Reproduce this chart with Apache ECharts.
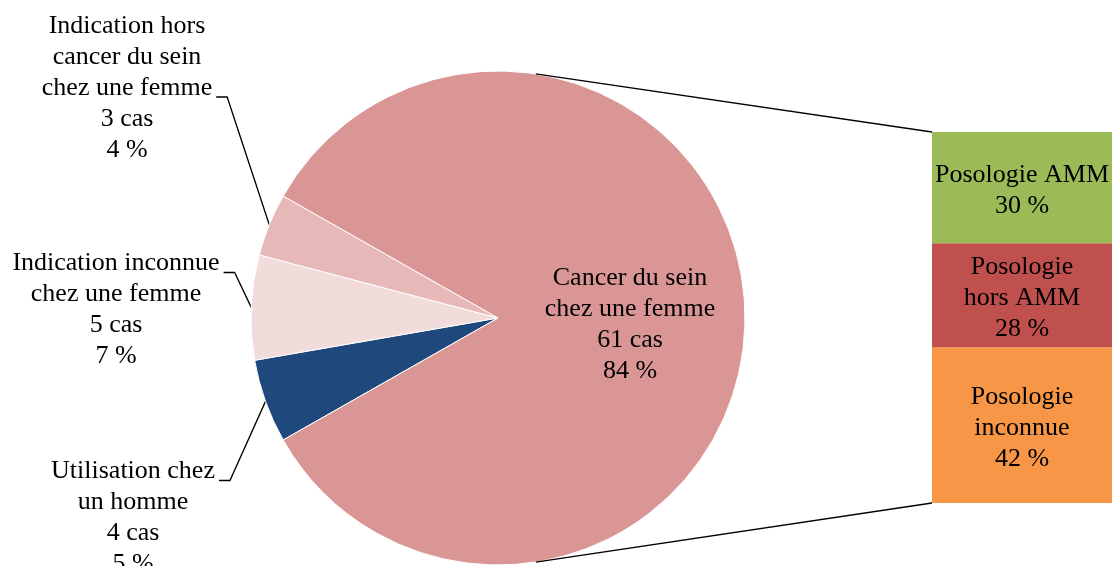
<!DOCTYPE html>
<html>
<head>
<meta charset="utf-8">
<script src="https://cdn.jsdelivr.net/npm/echarts@6/dist/echarts.min.js"></script>
<style>
  html, body { margin: 0; padding: 0; background: #fff; }
  #chart { width: 1112px; height: 566px; }
</style>
</head>
<body>
<div id="chart"></div>
<script>
    // pie slices, in clockwise order starting at the bottom-left
    const pieNames = ['Utilisation chez\nun homme', 'Indication inconnue\nchez une femme',
        'Indication hors\ncancer du sein\nchez une femme', 'Cancer du sein\nchez une femme'];
    const pieCases = [4, 5, 3, 61];
    const piePct = [5, 7, 4, 84];
    const pieColors = ['#1F497D', '#F2DCDB', '#E6B9B8', '#D99694'];

    // bar of the pie, bottom to top
    const barNames = ['Posologie\ninconnue', 'Posologie\nhors AMM', 'Posologie AMM'];
    const barPct = [42, 28, 30];
    const barColors = ['#F79646', '#C0504D', '#9BBB59'];

    const FONT = '"Liberation Serif", "Times New Roman", serif';
    const FS = 26, LH = 31;

    const cx = 498, cy = 318, r = 247;
    const gridLeft = 932, gridTop = 132, gridW = 180, gridH = 371;

    // small slices centered on the left
    const smallSum = pieCases.slice(0, 3).reduce((a, b) => a + b, 0);
    const total = pieCases.reduce((a, b) => a + b, 0);
    const startAngle = 180 + smallSum / total * 180;

    // label centres and the text line the leader attaches to
    const labelPos = [[133, 518], [116, 310], [127, 88], [630, 325]];
    const leaderLine = [0, 0, 2, -1];

    const chart = echarts.init(document.getElementById('chart'));

    // connector lines from the pie edge to the bar
    const ang = 81.2 * Math.PI / 180;
    const pTop = [cx + r * Math.cos(ang), cy - r * Math.sin(ang)];
    const pBot = [cx + r * Math.cos(ang), cy + r * Math.sin(ang)];

    const option = {
        animation: false,
        backgroundColor: '#fff',
        textStyle: { fontFamily: FONT },
        grid: { left: gridLeft, top: gridTop, width: gridW, height: gridH },
        xAxis: { type: 'category', data: ['a'], show: false },
        yAxis: { type: 'value', min: 0, max: 100, show: false },
        graphic: [
            { type: 'line', shape: { x1: pTop[0], y1: pTop[1], x2: gridLeft, y2: gridTop },
              style: { stroke: '#000', lineWidth: 1.3 }, z: 10 },
            { type: 'line', shape: { x1: pBot[0], y1: pBot[1], x2: gridLeft, y2: gridTop + gridH },
              style: { stroke: '#000', lineWidth: 1.3 }, z: 10 }
        ],
        series: [
            {
                type: 'pie',
                center: [cx, cy],
                radius: r,
                startAngle: startAngle,
                clockwise: true,
                avoidLabelOverlap: false,
                itemStyle: { borderColor: '#fff', borderWidth: 1 },
                label: {
                    show: true,
                    position: 'outside',
                    color: '#000',
                    fontSize: FS,
                    lineHeight: LH,
                    fontFamily: FONT,
                    align: 'center',
                    formatter: p => p.name + '\n' + pieCases[p.dataIndex] + ' cas\n' + piePct[p.dataIndex] + ' %'
                },
                labelLine: { show: true, length: 20, length2: 10, smooth: false,
                    lineStyle: { color: '#000', width: 1.3 } },
                labelLayout: p => {
                    const i = p.dataIndex;
                    const [x, y] = labelPos[i];
                    const out = { x: x, y: y, align: 'center', verticalAlign: 'middle' };
                    const k = leaderLine[i];
                    if (k >= 0 && p.labelLinePoints) {
                        const w = p.labelRect.width, h = p.labelRect.height;
                        const ly = y - h / 2 + LH * (k + 0.5) + 9;
                        const ex = x + w / 2 + 4;
                        out.labelLinePoints = [p.labelLinePoints[0], [ex + 11, ly], [ex, ly]];
                    }
                    return out;
                },
                data: pieNames.map((n, i) => {
                    const d = { name: n, value: pieCases[i], itemStyle: { color: pieColors[i] } };
                    if (i === 3) {
                        d.label = { position: 'inside' };
                        d.labelLine = { show: false };
                    }
                    return d;
                })
            }
        ].concat(barNames.map((n, i) => ({
            type: 'bar',
            stack: 'total',
            name: n,
            barWidth: '100%',
            itemStyle: { color: barColors[i] },
            label: {
                show: true,
                position: 'inside',
                offset: [0, 3],
                color: '#000',
                fontSize: FS,
                lineHeight: LH,
                fontFamily: FONT,
                formatter: () => n + '\n' + barPct[i] + ' %'
            },
            data: [barPct[i]]
        })))
    };

    chart.setOption(option);
</script>
</body>
</html>
